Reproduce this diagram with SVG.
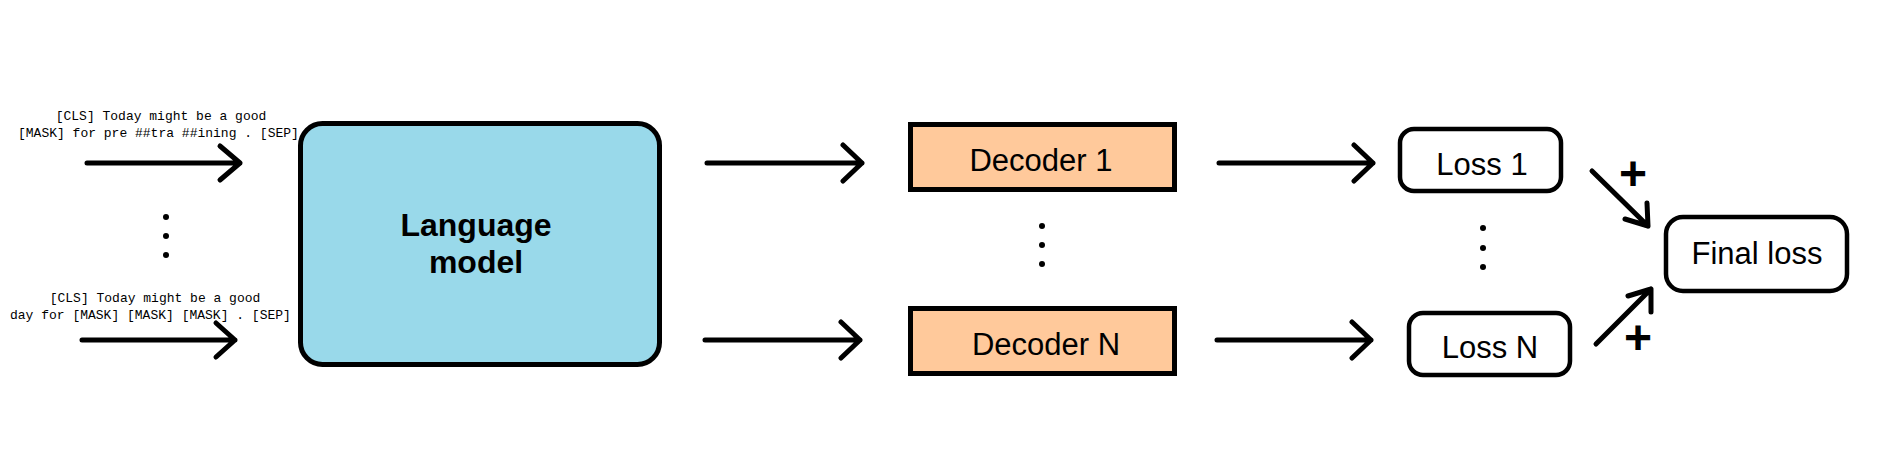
<svg xmlns="http://www.w3.org/2000/svg" width="1878" height="466" viewBox="0 0 1878 466">
<style>
.mono{font-family:"Liberation Mono","Courier New",monospace;font-size:13px;fill:#000}
.lbl{font-family:"Liberation Sans",Arial,sans-serif;font-size:31px;fill:#000;text-anchor:middle}
.bold{font-family:"Liberation Sans",Arial,sans-serif;font-size:32px;font-weight:bold;fill:#000;text-anchor:middle}
.plus{font-family:"Liberation Sans",Arial,sans-serif;font-size:48px;font-weight:bold;fill:#000;text-anchor:middle}
.arr{fill:none;stroke:#000;stroke-width:5;stroke-linecap:round;stroke-linejoin:round}
.dot{fill:#000}
</style>
<rect width="1878" height="466" fill="#fff"/>
<g id="input1">
<text class="mono" x="161" y="120" text-anchor="middle">[CLS] Today might be a good</text>
<text class="mono" x="18" y="137">[MASK] for pre ##tra ##ining . [SEP]</text>
</g>
<g id="inputN">
<text class="mono" x="155" y="302" text-anchor="middle">[CLS] Today might be a good</text>
<text class="mono" x="10" y="319">day for [MASK] [MASK] [MASK] . [SEP]</text>
</g>
<g id="dots-left">
<circle class="dot" cx="166" cy="217" r="3"/>
<circle class="dot" cx="166" cy="236" r="3"/>
<circle class="dot" cx="166" cy="255" r="3"/>
</g>
<g id="language-model">
<rect x="300.5" y="123.5" width="359" height="241" rx="22" fill="#99D9EA" stroke="#000" stroke-width="5"/>
<text class="bold" x="476" y="236">Language</text>
<text class="bold" x="476" y="273">model</text>
</g>
<g id="decoder1">
<rect x="910.5" y="124.5" width="264" height="65" fill="#FFC99B" stroke="#000" stroke-width="5"/>
<text class="lbl" x="1041" y="171">Decoder 1</text>
</g>
<g id="dots-dec">
<circle class="dot" cx="1042" cy="226" r="3"/>
<circle class="dot" cx="1042" cy="245" r="3"/>
<circle class="dot" cx="1042" cy="264" r="3"/>
</g>
<g id="decoderN">
<rect x="910.5" y="308.5" width="264" height="65" fill="#FFC99B" stroke="#000" stroke-width="5"/>
<text class="lbl" x="1046" y="355">Decoder N</text>
</g>
<g id="loss1">
<rect x="1400" y="129" width="161" height="62" rx="14" fill="#fff" stroke="#000" stroke-width="4.5"/>
<text class="lbl" x="1482" y="175">Loss 1</text>
</g>
<g id="dots-loss">
<circle class="dot" cx="1483" cy="228" r="3"/>
<circle class="dot" cx="1483" cy="248" r="3"/>
<circle class="dot" cx="1483" cy="267" r="3"/>
</g>
<g id="lossN">
<rect x="1409" y="313" width="161" height="62" rx="14" fill="#fff" stroke="#000" stroke-width="4.5"/>
<text class="lbl" x="1490" y="358">Loss N</text>
</g>
<g id="final-loss">
<rect x="1666" y="217" width="181" height="74" rx="17" fill="#fff" stroke="#000" stroke-width="4.5"/>
<text class="lbl" x="1757" y="264">Final loss</text>
</g>
<g id="connectors">
<path class="arr" d="M87 163H240M220 146L240 163L220 180"/>
<path class="arr" d="M82 340H235M216 323L235 340L216 357"/>
<path class="arr" d="M707 163H862M843 145L862 163L843 181"/>
<path class="arr" d="M705 340H860M841 322L860 340L841 358"/>
<path class="arr" d="M1219 163H1373M1354 145L1373 163L1354 181"/>
<path class="arr" d="M1217 340H1371M1352 322L1371 340L1352 358"/>
<path class="arr" d="M1592 171L1648 226M1647 203L1648 226L1625 219"/>
<path class="arr" d="M1596 344L1651 289M1651 312L1651 289L1628 296"/>
<text class="plus" x="1633" y="190">+</text>
<text class="plus" x="1638" y="354">+</text>
</g>
</svg>
